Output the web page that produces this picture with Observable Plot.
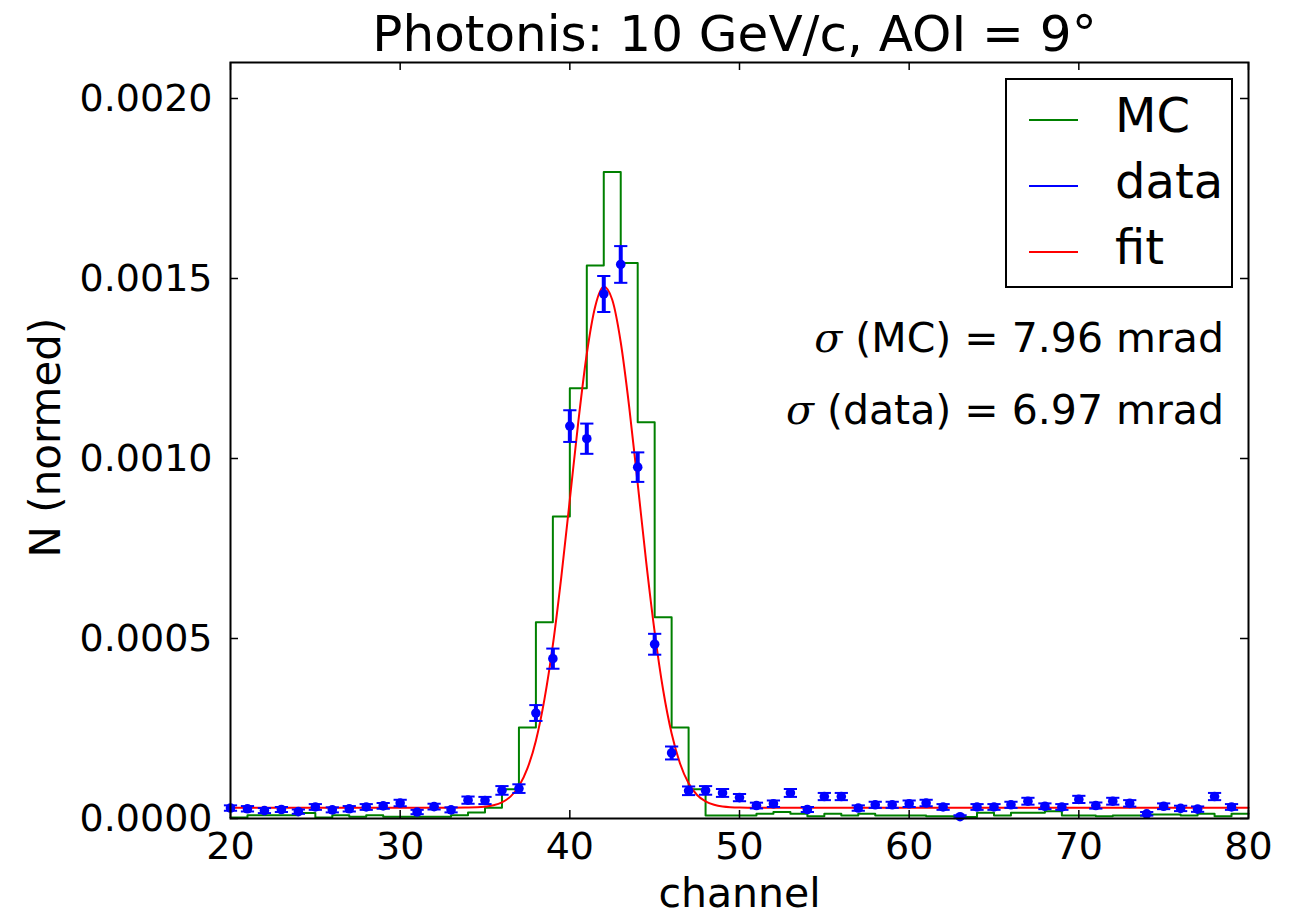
<!DOCTYPE html>
<html><head><meta charset="utf-8">
<script src="https://cdn.jsdelivr.net/npm/d3@7"></script>
<script src="https://cdn.jsdelivr.net/npm/@observablehq/plot@0.6"></script>
<style>body{margin:0;background:#fff;} #chart{width:1294px;height:915px;}</style>
</head><body><div id="chart"></div>
<script>
// ---- data ----
const channels = d3.range(20, 80); // channel bins 20..79

const mcValues = [
  0.000003, 0.000009, 0.000009, 0.000009, 0.000015, 0.000003, 0.000009, 0.000005, 0.000009, 0.000005,
  0.000005, 0.000005, 0.000005, 0.000009, 0.000017, 0.000030, 0.000081, 0.000253, 0.000545, 0.000839,
  0.001195, 0.001536, 0.001796, 0.001543, 0.001101, 0.000559, 0.000253, 0.000081, 0.000008, 0.000008,
  0.000008, 0.000013, 0.000018, 0.000013, 0.000006, 0.000013, 0.000008, 0.000013, 0.000008, 0.000008,
  0.000008, 0.000006, 0.000006, 0.000004, 0.000016, 0.000008, 0.000016, 0.000016, 0.000020, 0.000008,
  0.000008, 0.000006, 0.000008, 0.000008, 0.000011, 0.000011, 0.000008, 0.000013, 0.000006, 0.000013
];

const dataValues = [
  0.000029, 0.000027, 0.000022, 0.000025, 0.000019, 0.000032, 0.000024, 0.000027, 0.000032, 0.000035,
  0.000043, 0.000018, 0.000033, 0.000024, 0.000051, 0.000050, 0.000078, 0.000083, 0.000293, 0.000444,
  0.001090, 0.001055, 0.001457, 0.001539, 0.000976, 0.000484, 0.000182, 0.000077, 0.000078, 0.000071,
  0.000058, 0.000036, 0.000041, 0.000071, 0.000025, 0.000061, 0.000061, 0.000029, 0.000038, 0.000038,
  0.000041, 0.000043, 0.000032, 0.000005, 0.000032, 0.000032, 0.000038, 0.000048, 0.000034, 0.000032,
  0.000053, 0.000036, 0.000048, 0.000042, 0.000013, 0.000034, 0.000028, 0.000026, 0.000061, 0.000032
];

const dataErrors = [
  0.0000075, 0.0000075, 0.000007, 0.000007, 0.000006, 0.000008, 0.000007, 0.0000075, 0.000008, 0.000008,
  0.000009, 0.000006, 0.000008, 0.000007, 0.00001, 0.00001, 0.000012, 0.000012, 0.000022, 0.000028,
  0.000044, 0.000042, 0.00005, 0.000051, 0.000041, 0.000029, 0.000018, 0.000012, 0.000012, 0.000011,
  0.00001, 0.000008, 0.000009, 0.000011, 0.000007, 0.00001, 0.00001, 0.0000075, 0.0000085, 0.0000085,
  0.000009, 0.000009, 0.000008, 0.000004, 0.000008, 0.000008, 0.0000085, 0.0000095, 0.000008, 0.000008,
  0.00001, 0.0000085, 0.0000095, 0.000009, 0.000005, 0.000008, 0.0000075, 0.0000075, 0.00001, 0.000008
];

const fitX = [20, 30, 33, 34, 35, 35.5, 36, 36.5, 37, 37.5, 38, 38.5, 39, 39.5, 40, 40.5, 41, 41.5, 42,
  42.5, 43, 43.5, 44, 44.5, 45, 45.5, 46, 46.5, 47, 47.5, 48, 48.5, 49, 50, 51, 55, 60, 70, 80];
const fitY = [0.00003, 0.00003, 0.00003, 0.0000304, 0.0000329, 0.0000368, 0.0000449, 0.0000608, 0.0000897,
  0.000139, 0.000216, 0.00033, 0.000482, 0.000672, 0.000886, 0.001102, 0.001291, 0.001423, 0.001477,
  0.001441, 0.001323, 0.001143, 0.00093, 0.000713, 0.000518, 0.000357, 0.000236, 0.000152, 0.0000977,
  0.0000653, 0.0000473, 0.000038, 0.0000334, 0.0000305, 0.00003, 0.00003, 0.00003, 0.00003, 0.00003];

const xTicks = [20, 30, 40, 50, 60, 70, 80];
const yTicks = [0, 0.0005, 0.0010, 0.0015, 0.0020];

const titleText = "Photonis: 10 GeV/c, AOI = 9°";
const xLabel = "channel";
const yLabel = "N (normed)";
const sigmaSymbol = "σ";
const sigmaRest = [" (MC) = 7.96 mrad", " (data) = 6.97 mrad"];
const legendNames = ["MC", "data", "fit"];
const legendColors = ["#008000", "#0000ff", "#ff0000"];

// ---- tables ----
const mcTable = channels.map((c, i) => ({x: c, y: mcValues[i]}));
mcTable.push({x: 80, y: mcValues[mcValues.length - 1]});
const dataTable = channels.map((c, i) => ({x: c, y: dataValues[i], e: dataErrors[i]}));
const fitTable = fitX.map((x, i) => ({x, y: fitY[i]}));

const W = 1294, H = 915, mL = 230, mR = 46, mT = 62, mB = 97;
const fw = W - mL - mR, fh = H - mT - mB;
const capHalf = 0.39; // half cap width in channel units

const chart = Plot.plot({
  width: W, height: H,
  marginLeft: mL, marginRight: mR, marginTop: mT, marginBottom: mB,
  style: {fontFamily: "DejaVu Sans", color: "black", background: "white", overflow: "visible"},
  x: {domain: [20, 80]},
  y: {domain: [0, 0.0021]},
  marks: [
    Plot.line(mcTable, {x: "x", y: "y", curve: "step-after", stroke: "#008000", strokeWidth: 2}),
    Plot.line(fitTable, {x: "x", y: "y", curve: "monotone-x", stroke: "#ff0000", strokeWidth: 2}),
    Plot.ruleX(dataTable, {x: "x", y1: d => d.y - d.e, y2: d => d.y + d.e, stroke: "#0000ff", strokeWidth: 4}),
    Plot.link(dataTable, {x1: d => d.x - capHalf, x2: d => d.x + capHalf, y1: d => d.y + d.e, y2: d => d.y + d.e, stroke: "#0000ff", strokeWidth: 2}),
    Plot.link(dataTable, {x1: d => d.x - capHalf, x2: d => d.x + capHalf, y1: d => d.y - d.e, y2: d => d.y - d.e, stroke: "#0000ff", strokeWidth: 2}),
    Plot.dot(dataTable, {x: "x", y: "y", r: 4.8, fill: "#0000ff", stroke: "none"}),
    // inward ticks on all four sides
    Plot.tickX(xTicks, {x: d => d, insetTop: fh - 8, stroke: "black", strokeWidth: 1.5}),
    Plot.tickX(xTicks, {x: d => d, insetBottom: fh - 8, stroke: "black", strokeWidth: 1.5}),
    Plot.tickY(yTicks, {y: d => d, insetRight: fw - 8, stroke: "black", strokeWidth: 1.5}),
    Plot.tickY(yTicks, {y: d => d, insetLeft: fw - 8, stroke: "black", strokeWidth: 1.5}),
    Plot.axisX({ticks: xTicks, tickSize: 0, tickPadding: 14, tickFormat: d => String(d), label: null, fontSize: 38}),
    Plot.axisY({ticks: yTicks, tickSize: 0, tickPadding: 18, tickFormat: d3.format(".4f"), label: null, fontSize: 38}),
    Plot.text([xLabel], {frameAnchor: "bottom", dy: 75, fontSize: 41, lineAnchor: "middle"}),
    Plot.text([titleText], {frameAnchor: "top", dx: -5, dy: -28, fontSize: 50, lineAnchor: "middle"}),
    Plot.frame({stroke: "black", strokeWidth: 2})
  ]
});

const svg = d3.select(chart);

// y-axis label (rotated)
svg.append("text")
  .attr("transform", "translate(60,437.5) rotate(-90)")
  .attr("text-anchor", "middle").attr("font-size", 42)
  .attr("font-family", "DejaVu Sans").attr("fill", "black").text(yLabel);

// sigma annotations, right-aligned
const sigmaBaselines = [352, 424];
sigmaRest.forEach((rest, i) => {
  const t = svg.append("text").attr("x", 1224).attr("y", sigmaBaselines[i])
    .attr("text-anchor", "end").attr("font-size", 41)
    .attr("font-family", "DejaVu Sans").attr("fill", "black");
  t.append("tspan").attr("font-style", "italic").attr("font-family", "DejaVu Serif").text(sigmaSymbol);
  t.append("tspan").text(rest);
});

// legend box inside the plot (upper right)
const lg = svg.append("g").attr("class", "legend");
lg.append("rect").attr("x", 1006).attr("y", 79).attr("width", 226).attr("height", 208)
  .attr("fill", "white").attr("stroke", "black").attr("stroke-width", 2);
const rowY = [120, 186, 252];
legendNames.forEach((name, i) => {
  lg.append("line").attr("x1", 1029).attr("x2", 1078).attr("y1", rowY[i]).attr("y2", rowY[i])
    .attr("stroke", legendColors[i]).attr("stroke-width", 2);
  lg.append("text").attr("x", 1115).attr("y", rowY[i] + 12).attr("font-size", 48)
    .attr("text-anchor", "start")
    .attr("font-family", "DejaVu Sans").attr("fill", "black").text(name);
});

document.getElementById("chart").appendChild(chart);
</script></body></html>
